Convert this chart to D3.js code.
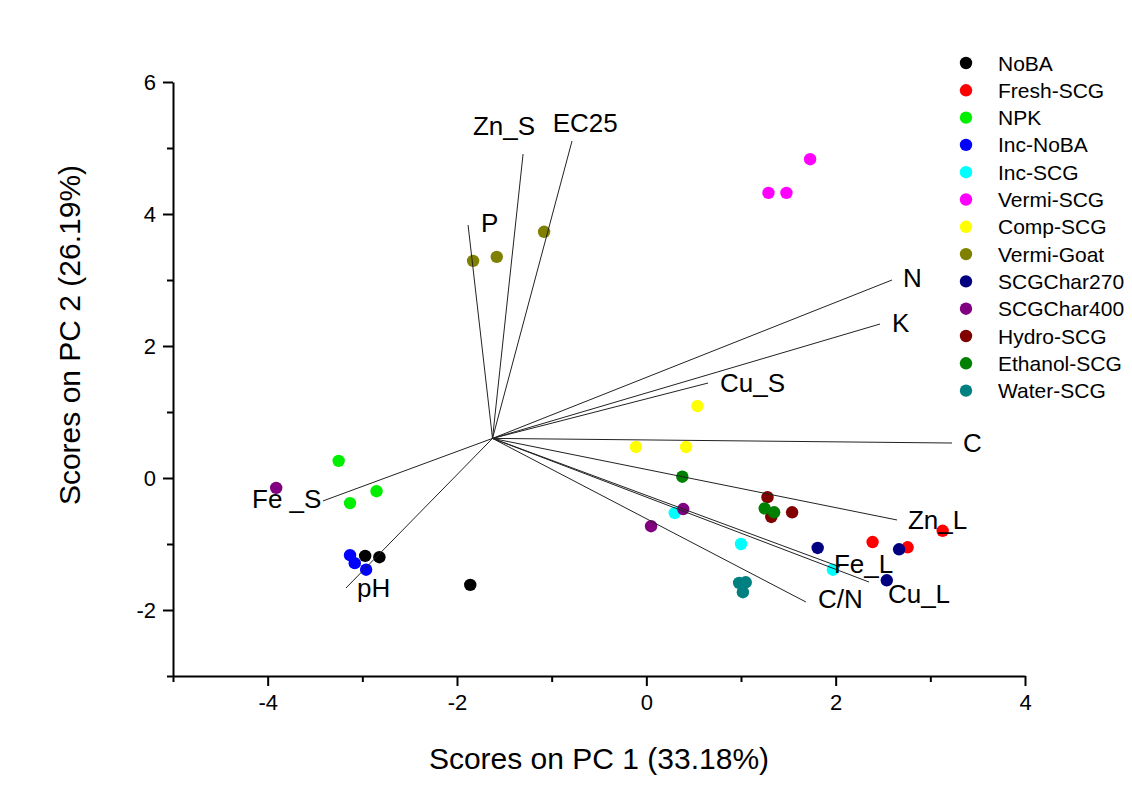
<!DOCTYPE html>
<html>
<head>
<meta charset="utf-8">
<script src="https://cdn.jsdelivr.net/npm/d3@7/dist/d3.min.js"></script>
<style>
  html, body { margin: 0; padding: 0; background: #ffffff; }
  svg { display: block; font-family: "Liberation Sans", Arial, sans-serif; }
</style>
</head>
<body>
<svg id="chart" width="1132" height="793"></svg>
<script>
// ---------------- DATA ----------------
const groups = ["NoBA","Fresh-SCG","NPK","Inc-NoBA","Inc-SCG","Vermi-SCG","Comp-SCG",
                "Vermi-Goat","SCGChar270","SCGChar400","Hydro-SCG","Ethanol-SCG","Water-SCG"];
const groupColors = ["#000000","#ff0000","#00ee00","#0000ff","#00ffff","#ff00ff","#ffff00",
                     "#808000","#000080","#800080","#800000","#008000","#008080"];
// PC1 / PC2 scores, three replicates per group
const scoresPC1 = [
  [-2.97, -2.82, -1.86],
  [ 2.39,  2.76,  3.13],
  [-3.25, -2.85, -3.13],
  [-3.13, -3.08, -2.96],
  [ 0.30,  1.00,  1.97],
  [ 1.29,  1.48,  1.73],
  [ 0.54, -0.11,  0.42],
  [-1.83, -1.58, -1.08],
  [ 1.81,  2.67,  2.54],
  [-3.91,  0.39,  0.05],
  [ 1.28,  1.32,  1.54],
  [ 0.38,  1.25,  1.35],
  [ 0.98,  1.05,  1.02]
];
const scoresPC2 = [
  [-1.18, -1.20, -1.62],
  [-0.97, -1.05, -0.80],
  [ 0.26, -0.20, -0.38],
  [-1.17, -1.29, -1.39],
  [-0.53, -1.00, -1.39],
  [ 4.32,  4.32,  4.83],
  [ 1.09,  0.47,  0.47],
  [ 3.29,  3.35,  3.73],
  [-1.06, -1.08, -1.55],
  [-0.15, -0.47, -0.73],
  [-0.29, -0.59, -0.52],
  [ 0.02, -0.46, -0.52],
  [-1.59, -1.58, -1.73]
];
// Loading vectors (biplot)
const loadingOrigin = [-1.625, 0.60];
const loadingNames = ["Zn_S","EC25","P","N","K","Cu_S","C","Zn_L","Fe_L","Cu_L","C/N","Fe _S","pH"];
const loadingX = [-1.302, -0.785, -1.883, 2.595, 2.468, 0.652, 3.229, 2.648, 2.046, 2.352, 1.686, -3.416, -3.173];
const loadingY = [ 4.909,  5.106,  3.833, 3.000, 2.333, 1.439, 0.530, -0.636, -1.348, -1.576, -1.879, -0.348, -1.667];
const labelX   = [-1.831, -0.989, -1.746, 2.712, 2.595, 0.778, 3.345, 2.764, 1.982, 2.552, 1.814, -4.165, -3.056];
const labelY   = [ 5.197,  5.242,  3.727, 2.894, 2.212, 1.303, 0.394, -0.773, -1.439, -1.894, -1.970, -0.455, -1.803];
// Axes
const xDomain = [-5, 4];
const yDomain = [-3, 6];
const xMajorTicks = [-4, -2, 0, 2, 4];
const xMinorTicks = [-5, -3, -1, 1, 3];
const yMajorTicks = [-2, 0, 2, 4, 6];
const yMinorTicks = [-3, -1, 1, 3, 5];
const xTitle = "Scores on PC 1 (33.18%)";
const yTitle = "Scores on PC 2 (26.19%)";

// ---------------- DRAW ----------------
const svg = d3.select("#chart");
const mLeft = 173, mRight = 1025, mTop = 82, mBottom = 676;
const x = d3.scaleLinear().domain(xDomain).range([mLeft, mRight]);
const y = d3.scaleLinear().domain(yDomain).range([mBottom, mTop]);

// points
const pts = [];
groups.forEach((g, i) => {
  scoresPC1[i].forEach((v, j) => pts.push({g: i, x: v, y: scoresPC2[i][j]}));
});
svg.append("g").selectAll("circle").data(pts).join("circle")
  .attr("cx", d => x(d.x)).attr("cy", d => y(d.y)).attr("r", 6.2)
  .attr("fill", d => groupColors[d.g]);

// loading lines
const lg = svg.append("g");
loadingNames.forEach((n, i) => {
  lg.append("line")
    .attr("x1", x(loadingOrigin[0])).attr("y1", y(loadingOrigin[1]))
    .attr("x2", x(loadingX[i])).attr("y2", y(loadingY[i]))
    .attr("stroke", "#222").attr("stroke-width", 1);
  lg.append("text")
    .attr("x", x(labelX[i])).attr("y", y(labelY[i]))
    .attr("font-size", 26).attr("fill", "#000")
    .text(n);
});

// axes
const xAxis = svg.append("g").attr("transform", `translate(0,${mBottom})`)
  .call(d3.axisBottom(x).tickValues(xMajorTicks).tickSize(10).tickSizeOuter(0).tickPadding(8).tickFormat(d3.format("d")));
const yAxis = svg.append("g").attr("transform", `translate(${mLeft},0)`)
  .call(d3.axisLeft(y).tickValues(yMajorTicks).tickSize(10).tickSizeOuter(0).tickPadding(7).tickFormat(d3.format("d")));
[xAxis, yAxis].forEach(a => {
  a.select(".domain").attr("stroke", "#000").attr("stroke-width", 2);
  a.selectAll(".tick line").attr("stroke", "#000").attr("stroke-width", 2);
  a.selectAll(".tick text").attr("font-size", 22).attr("fill", "#000")
    .attr("font-family", '"Liberation Sans", Arial, sans-serif');
});
svg.selectAll(".tick text").text(function() { return this.textContent.replace("\u2212", "-"); });

svg.append("g").attr("transform", `translate(0,${mBottom})`)
  .call(d3.axisBottom(x).tickValues(xMinorTicks).tickSize(6).tickSizeOuter(0).tickFormat(""))
  .call(g => { g.select(".domain").remove(); g.selectAll("line").attr("stroke", "#000").attr("stroke-width", 2); });
svg.append("g").attr("transform", `translate(${mLeft},0)`)
  .call(d3.axisLeft(y).tickValues(yMinorTicks).tickSize(6).tickSizeOuter(0).tickFormat(""))
  .call(g => { g.select(".domain").remove(); g.selectAll("line").attr("stroke", "#000").attr("stroke-width", 2); });

// axis titles
svg.append("text").attr("x", (mLeft + mRight) / 2).attr("y", 769)
  .attr("text-anchor", "middle").attr("font-size", 30).text(xTitle);
svg.append("text").attr("transform", `translate(80,335) rotate(-90)`)
  .attr("text-anchor", "middle").attr("font-size", 30).text(yTitle);

// legend
const legend = svg.append("g").attr("transform", "translate(966,63)");
groups.forEach((g, i) => {
  const row = legend.append("g").attr("transform", `translate(0,${i * 27.3})`);
  row.append("circle").attr("r", 6.2).attr("fill", groupColors[i]);
  row.append("text").attr("x", 32).attr("y", 7.5).attr("font-size", 21).text(g);
});
</script>
</body>
</html>
